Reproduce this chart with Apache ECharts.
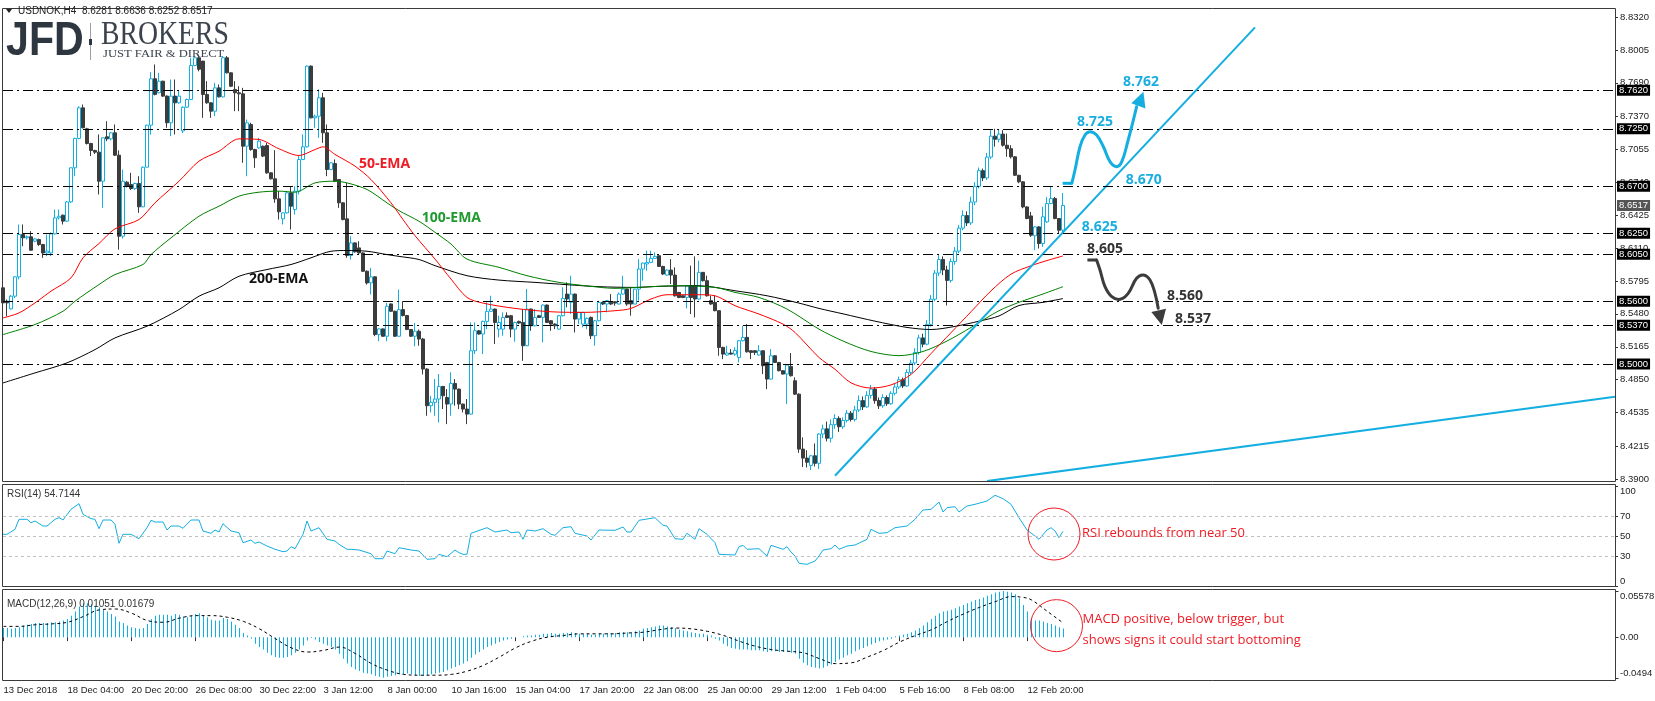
<!DOCTYPE html>
<html>
<head>
<meta charset="utf-8">
<title>USDNOK H4</title>
<script src="https://cdn.jsdelivr.net/npm/echarts@6.0.0/dist/echarts.min.js"></script>
<style>
  html, body { margin: 0; padding: 0; background: #fff; }
  #chartRoot { width: 1655px; height: 701px; }
</style>
</head>
<body>
<div id="chartRoot"></div>
<script>
// H4 candles from 13 Dec 2018 12:00, each [open, close, low, high]
const candles = [
  [8.5729,8.5585,8.5550,8.5760],[8.5601,8.5585,8.5457,8.5617],[8.5528,8.5649,8.5521,8.5660],[8.5649,8.5834,8.5630,8.5840],
  [8.5834,8.6239,8.5810,8.6335],[8.6239,8.6207,8.6127,8.6335],[8.6207,8.6217,8.6190,8.6230],[8.6217,8.6089,8.6085,8.6271],
  [8.6175,8.6197,8.6165,8.6205],[8.6191,8.6143,8.6130,8.6200],[8.6143,8.6063,8.6016,8.6150],[8.6063,8.6080,8.6032,8.6239],
  [8.6063,8.6245,8.6032,8.6260],[8.6245,8.6398,8.6240,8.6478],[8.6398,8.6414,8.6382,8.6478],[8.6424,8.6367,8.6335,8.6430],
  [8.6367,8.6551,8.6360,8.6560],[8.6551,8.6877,8.6540,8.6880],[8.6877,8.7158,8.6797,8.7165],[8.7158,8.7451,8.7150,8.7467],
  [8.7451,8.7260,8.7255,8.7483],[8.7250,8.7110,8.7100,8.7260],[8.7110,8.7043,8.6990,8.7116],[8.7043,8.7027,8.7010,8.7050],
  [8.7027,8.6749,8.6622,8.7196],[8.6749,8.7164,8.6494,8.7170],[8.7174,8.7154,8.7132,8.7323],[8.7154,8.7212,8.7140,8.7220],
  [8.7212,8.6998,8.6990,8.7292],[8.6998,8.6223,8.6095,8.7043],[8.6223,8.6749,8.6200,8.6861],[8.6740,8.6701,8.6690,8.6749],
  [8.6717,8.6679,8.6665,8.6829],[8.6679,8.6727,8.6665,8.6735],[8.6727,8.6504,8.6446,8.6797],[8.6504,8.6883,8.6500,8.6890],
  [8.6883,8.7285,8.6880,8.7290],[8.7285,8.7729,8.7196,8.7792],[8.7729,8.7579,8.7570,8.7866],[8.7595,8.7706,8.7590,8.7786],
  [8.7706,8.7563,8.7555,8.7710],[8.7563,8.7308,8.7260,8.7570],[8.7308,8.7563,8.7180,8.7722],[8.7563,8.7499,8.7196,8.7722],
  [8.7499,8.7563,8.7490,8.7611],[8.7230,8.7457,8.7210,8.7465],[8.7457,8.7531,8.7450,8.7540],[8.7531,8.7856,8.7525,8.7930],
  [8.7856,8.7930,8.7850,8.7940],[8.7930,8.7820,8.7800,8.7960],[8.7898,8.7579,8.7355,8.7900],[8.7579,8.7499,8.7490,8.7706],
  [8.7499,8.7419,8.7355,8.7505],[8.7419,8.7642,8.7371,8.7690],[8.7642,8.7556,8.7550,8.7674],[8.7556,8.7930,8.7550,8.7946],
  [8.7930,8.7786,8.7780,8.7946],[8.7786,8.7658,8.7650,8.7790],[8.7627,8.7595,8.7419,8.7706],[8.7595,8.7585,8.7419,8.7658],
  [8.7585,8.7084,8.6925,8.7642],[8.7084,8.7308,8.6797,8.7339],[8.7292,8.7052,8.7040,8.7308],[8.7052,8.6973,8.6877,8.7060],
  [8.7068,8.7132,8.7060,8.7164],[8.7084,8.6989,8.6980,8.7090],[8.7091,8.6829,8.6820,8.7116],[8.6829,8.6772,8.6765,8.6835],
  [8.6772,8.6580,8.6542,8.7046],[8.6580,8.6456,8.6382,8.6654],[8.6389,8.6446,8.6335,8.6450],[8.6446,8.6638,8.6440,8.6654],
  [8.6638,8.6510,8.6287,8.6701],[8.6478,8.6654,8.6430,8.6701],[8.6654,8.6957,8.6622,8.6989],[8.6957,8.7078,8.6950,8.7196],
  [8.7078,8.7850,8.7070,8.7856],[8.7850,8.7355,8.7350,8.7856],[8.7355,8.7371,8.7260,8.7387],[8.7371,8.7547,8.7164,8.7627],
  [8.7547,8.7212,8.7116,8.7595],[8.7212,8.6861,8.6797,8.7292],[8.6861,8.6925,8.6855,8.6930],[8.6918,8.6749,8.6740,8.6957],
  [8.6765,8.6542,8.6494,8.6770],[8.6542,8.6382,8.6375,8.6550],[8.6389,8.6038,8.6016,8.6733],[8.6038,8.6159,8.6000,8.6223],
  [8.6159,8.6073,8.6065,8.6165],[8.6111,8.6063,8.6055,8.6175],[8.6063,8.5888,8.5880,8.6070],[8.5888,8.5776,8.5760,8.5895],
  [8.5776,8.5834,8.5665,8.5920],[8.5834,8.5282,8.5266,8.5840],[8.5282,8.5336,8.5218,8.5340],[8.5336,8.5266,8.5260,8.5340],
  [8.5266,8.5553,8.5218,8.5585],[8.5575,8.5505,8.5500,8.5580],[8.5505,8.5266,8.5260,8.5510],[8.5266,8.5521,8.5260,8.5713],
  [8.5521,8.5464,8.5455,8.5601],[8.5464,8.5330,8.5325,8.5470],[8.5330,8.5266,8.5260,8.5335],[8.5266,8.5314,8.5170,8.5393],
  [8.5314,8.5239,8.5175,8.5330],[8.5239,8.4952,8.4900,8.5250],[8.4952,8.4601,8.4505,8.4960],[8.4601,8.4633,8.4537,8.4696],
  [8.4633,8.4665,8.4505,8.4856],[8.4665,8.4786,8.4441,8.4904],[8.4786,8.4696,8.4569,8.4790],[8.4680,8.4617,8.4425,8.4760],
  [8.4617,8.4814,8.4505,8.4920],[8.4814,8.4760,8.4601,8.4856],[8.4760,8.4617,8.4569,8.4765],[8.4617,8.4569,8.4537,8.4620],
  [8.4569,8.4521,8.4425,8.4665],[8.4521,8.5127,8.4515,8.5398],[8.5127,8.5318,8.5095,8.5398],[8.5318,8.5287,8.5280,8.5325],
  [8.5287,8.5408,8.5095,8.5415],[8.5408,8.5504,8.5334,8.5590],[8.5504,8.5526,8.5500,8.5653],[8.5526,8.5398,8.5191,8.5530],
  [8.5334,8.5398,8.5255,8.5462],[8.5334,8.5446,8.5271,8.5494],[8.5462,8.5446,8.5440,8.5494],[8.5462,8.5334,8.5255,8.5470],
  [8.5334,8.5398,8.5213,8.5405],[8.5408,8.5392,8.5385,8.5415],[8.5398,8.5175,8.5031,8.5526],[8.5175,8.5526,8.5170,8.5717],
  [8.5526,8.5366,8.5318,8.5530],[8.5366,8.5446,8.5360,8.5526],[8.5462,8.5446,8.5440,8.5470],[8.5446,8.5564,8.5207,8.5570],
  [8.5564,8.5398,8.5392,8.5570],[8.5414,8.5382,8.5318,8.5420],[8.5382,8.5366,8.5334,8.5390],[8.5334,8.5462,8.5330,8.5470],
  [8.5462,8.5628,8.5455,8.5733],[8.5669,8.5622,8.5542,8.5781],[8.5590,8.5669,8.5478,8.5845],[8.5669,8.5430,8.5302,8.5675],
  [8.5430,8.5494,8.5382,8.5500],[8.5382,8.5494,8.5350,8.5500],[8.5382,8.5437,8.5334,8.5445],[8.5446,8.5271,8.5239,8.5455],
  [8.5271,8.5414,8.5175,8.5420],[8.5414,8.5590,8.5410,8.5606],[8.5590,8.5574,8.5565,8.5600],[8.5574,8.5606,8.5494,8.5612],
  [8.5590,8.5574,8.5565,8.5669],[8.5596,8.5583,8.5558,8.5600],[8.5574,8.5669,8.5570,8.5685],[8.5669,8.5717,8.5665,8.5845],
  [8.5717,8.5574,8.5558,8.5720],[8.5606,8.5574,8.5462,8.5733],[8.5574,8.5717,8.5570,8.5720],[8.5717,8.5909,8.5606,8.6004],
  [8.5909,8.5966,8.5797,8.5970],[8.5957,8.5972,8.5893,8.6084],[8.5972,8.6011,8.5965,8.6084],[8.6011,8.6030,8.6005,8.6068],
  [8.6036,8.5934,8.5930,8.6040],[8.5934,8.5861,8.5851,8.5940],[8.5851,8.5899,8.5845,8.5905],[8.5899,8.5851,8.5765,8.6004],
  [8.5851,8.5653,8.5645,8.5925],[8.5685,8.5637,8.5630,8.5690],[8.5653,8.5637,8.5630,8.5660],[8.5637,8.5749,8.5532,8.5755],
  [8.5749,8.5637,8.5478,8.5941],[8.5749,8.5622,8.5446,8.6030],[8.5622,8.5877,8.5615,8.5989],[8.5877,8.5797,8.5790,8.5880],
  [8.5797,8.5653,8.5645,8.5845],[8.5606,8.5574,8.5565,8.5653],[8.5590,8.5510,8.5505,8.5653],[8.5510,8.5159,8.5079,8.5515],
  [8.5159,8.5095,8.5047,8.5165],[8.5086,8.5105,8.5080,8.5175],[8.5105,8.5095,8.5090,8.5143],[8.5095,8.5130,8.5079,8.5160],
  [8.5063,8.5223,8.5015,8.5230],[8.5223,8.5255,8.5215,8.5366],[8.5255,8.5117,8.5110,8.5382],[8.5127,8.5111,8.5047,8.5130],
  [8.5127,8.5111,8.5086,8.5130],[8.5086,8.5127,8.5080,8.5181],[8.5127,8.4984,8.4904,8.5130],[8.5015,8.4856,8.4760,8.5020],
  [8.4856,8.5079,8.4850,8.5143],[8.5079,8.5015,8.5010,8.5085],[8.5015,8.4936,8.4930,8.5020],[8.4936,8.4904,8.4900,8.4940],
  [8.4904,8.4990,8.4617,8.4995],[8.4977,8.4888,8.4880,8.5105],[8.4840,8.4712,8.4705,8.4872],[8.4712,8.4186,8.4150,8.4720],
  [8.4186,8.4100,8.4015,8.4298],[8.4100,8.4060,8.4010,8.4175],[8.4030,8.4122,8.3986,8.4130],[8.4122,8.4050,8.4020,8.4240],
  [8.4050,8.4330,8.3996,8.4340],[8.4330,8.4380,8.4290,8.4420],[8.4380,8.4290,8.4260,8.4450],[8.4290,8.4420,8.4250,8.4470],
  [8.4420,8.4480,8.4380,8.4520],[8.4480,8.4400,8.4350,8.4500],[8.4400,8.4460,8.4380,8.4490],[8.4460,8.4530,8.4440,8.4560],
  [8.4530,8.4470,8.4450,8.4550],[8.4470,8.4560,8.4450,8.4600],[8.4560,8.4650,8.4540,8.4700],[8.4650,8.4590,8.4560,8.4690],
  [8.4590,8.4700,8.4580,8.4740],[8.4700,8.4760,8.4670,8.4800],[8.4760,8.4650,8.4620,8.4780],[8.4650,8.4600,8.4570,8.4680],
  [8.4600,8.4680,8.4580,8.4710],[8.4680,8.4620,8.4600,8.4700],[8.4620,8.4720,8.4610,8.4740],[8.4720,8.4780,8.4700,8.4810],
  [8.4780,8.4850,8.4760,8.4880],[8.4850,8.4790,8.4770,8.4870],[8.4790,8.4920,8.4780,8.4950],[8.4920,8.5010,8.4900,8.5040],
  [8.5010,8.5110,8.4990,8.5150],[8.5110,8.5250,8.5090,8.5280],[8.5250,8.5190,8.5160,8.5290],[8.5190,8.5380,8.5180,8.5420],
  [8.5380,8.5620,8.5360,8.5660],[8.5620,8.5870,8.5600,8.5900],[8.5870,8.6000,8.5840,8.6050],[8.6000,8.5900,8.5850,8.6030],
  [8.5900,8.5800,8.5560,8.5940],[8.5800,8.5980,8.5780,8.6010],[8.5980,8.6080,8.5950,8.6120],[8.6080,8.6300,8.6060,8.6330],
  [8.6300,8.6420,8.6280,8.6470],[8.6420,8.6350,8.6320,8.6460],[8.6350,8.6550,8.6330,8.6600],[8.6550,8.6700,8.6520,8.6740],
  [8.6700,8.6850,8.6680,8.6880],[8.6850,8.6780,8.6750,8.6870],[8.6780,8.6980,8.6760,8.7020],[8.6980,8.7180,8.6960,8.7240],
  [8.7180,8.7150,8.7080,8.7250],[8.7150,8.7200,8.7120,8.7245],[8.7200,8.7093,8.7080,8.7237],[8.7093,8.7060,8.6982,8.7205],
  [8.7060,8.6982,8.6966,8.7093],[8.6982,8.6806,8.6800,8.6990],[8.6806,8.6743,8.6730,8.6810],[8.6743,8.6503,8.6490,8.6750],
  [8.6503,8.6392,8.6385,8.6510],[8.6417,8.6232,8.6216,8.6455],[8.6226,8.6312,8.6089,8.6320],[8.6312,8.6153,8.6105,8.6320],
  [8.6153,8.6408,8.6121,8.6504],[8.6360,8.6535,8.6350,8.6599],[8.6535,8.6583,8.6530,8.6695],[8.6583,8.6392,8.6385,8.6599],
  [8.6392,8.6280,8.6248,8.6395],[8.6281,8.6517,8.6252,8.6636]
];

// moving averages, [bar, value]
const ema50 = [[0,8.5441],[4,8.5489],[8,8.5585],[12,8.5697],[17,8.5824],[20,8.6016],[24,8.6153],[28,8.6293],[34,8.6382],[38,8.6542],[44,8.6749],[49,8.6941],[54,8.7036],[59,8.7154],[64,8.7148],[69,8.7059],[74,8.6995],[78,8.7052],[80,8.7078],[83,8.7005],[88,8.6893],[92,8.6765],[97,8.6542],[100,8.6382],[103,8.6228],[108,8.6004],[112,8.5813],[116,8.5637],[120,8.5583],[128,8.5532],[137,8.5500],[145,8.5494],[153,8.5510],[157,8.5532],[162,8.5622],[166,8.5663],[174,8.5663],[178,8.5653],[183,8.5558],[189,8.5478],[195,8.5382],[198,8.5302],[204,8.5063],[208,8.4950],[212,8.4820],[217,8.4770],[222,8.4800],[227,8.4900],[232,8.5100],[237,8.5300],[242,8.5500],[247,8.5700],[252,8.5860],[257,8.5940],[261,8.5990],[265,8.6034]];
const ema100 = [[0,8.5282],[8,8.5378],[15,8.5505],[18,8.5601],[24,8.5760],[28,8.5856],[35,8.5952],[37,8.6047],[42,8.6207],[49,8.6414],[54,8.6510],[59,8.6606],[64,8.6644],[69,8.6654],[73,8.6644],[78,8.6733],[83,8.6749],[86,8.6733],[91,8.6670],[96,8.6542],[99,8.6467],[104,8.6366],[108,8.6260],[112,8.6148],[116,8.6004],[124,8.5925],[131,8.5845],[139,8.5781],[147,8.5743],[153,8.5724],[162,8.5740],[168,8.5749],[178,8.5733],[183,8.5685],[189,8.5637],[196,8.5526],[204,8.5334],[210,8.5220],[217,8.5120],[224,8.5080],[230,8.5120],[236,8.5220],[242,8.5350],[249,8.5510],[254,8.5590],[260,8.5670],[265,8.5740]];
const ema200 = [[0,8.4819],[8,8.4915],[16,8.5011],[23,8.5138],[28,8.5250],[36,8.5362],[44,8.5521],[49,8.5649],[54,8.5729],[59,8.5840],[66,8.5904],[72,8.5952],[77,8.6016],[82,8.6079],[86,8.6086],[91,8.6079],[96,8.6047],[99,8.6030],[104,8.6000],[108,8.5941],[116,8.5845],[124,8.5803],[133,8.5781],[141,8.5759],[149,8.5740],[158,8.5733],[164,8.5743],[174,8.5749],[183,8.5701],[191,8.5653],[199,8.5583],[204,8.5532],[210,8.5480],[218,8.5410],[226,8.5350],[232,8.5330],[238,8.5360],[244,8.5410],[249,8.5460],[254,8.5560],[260,8.5590],[265,8.5626]];

// RSI(14), [bar, value]
const rsi = [[0,51.7],[1,51.7],[3,56.7],[4,66.7],[6,66.7],[7,63.3],[8,65],[10,60],[11,60],[13,66.7],[14,68.3],[15,66],[17,76.7],[19,82.3],[20,71.7],[22,67.3],[23,66.7],[24,57.3],[25,66],[27,66],[28,61.7],[29,42.7],[30,51.7],[32,51.7],[34,47.3],[36,58.3],[37,65.7],[38,64],[40,64],[41,56],[42,60],[44,60],[45,57.7],[47,66],[49,66],[50,55],[52,52.7],[53,56],[54,54],[55,62.3],[57,55],[59,53.3],[60,43.3],[62,46],[63,42.7],[64,44],[66,40],[68,36.7],[70,34.3],[71,35],[72,39.3],[73,37.3],[75,51.7],[76,65],[77,55],[79,58.3],[81,46.7],[83,45],[84,41.7],[86,36.7],[87,36.7],[89,36],[92,32.3],[93,27.3],[95,27.3],[96,35],[98,32.3],[99,38.3],[102,36],[104,35],[106,26.7],[108,27.3],[109,31.7],[111,29.3],[113,36],[114,33.3],[115,31.7],[116,31.7],[117,52.7],[121,58.3],[123,54],[126,56],[127,53.3],[129,54],[130,46.7],[131,56],[133,55],[135,57.3],[137,51.7],[138,50.7],[140,58.3],[142,59.3],[143,52.7],[146,50],[147,46],[149,56],[153,55.7],[155,59],[156,54],[157,54],[159,65.7],[163,68.3],[165,60.7],[166,60],[168,47.3],[170,46.7],[171,52.7],[173,46.7],[174,57.3],[176,51.7],[178,43.3],[179,31.7],[183,31],[184,39.3],[185,40.7],[186,36.7],[189,37.3],[191,30],[192,40.7],[195,36.7],[196,39.3],[197,34],[198,30],[199,22.7],[201,21.7],[203,25],[204,30],[205,36],[207,37.3],[208,41],[209,36.7],[211,40],[213,41],[216,46.7],[217,56.7],[219,52.7],[221,53.3],[223,58.3],[226,60],[228,66.7],[230,76],[232,76.7],[234,84],[235,74],[236,78.3],[238,79.3],[239,74],[241,80],[243,81.7],[246,85],[248,90.7],[250,87.3],[252,81.7],[254,68.3],[256,56],[258,50],[259,46.7],[261,56],[262,58.3],[263,55],[264,48.3],[265,54.7]];

// MACD(12,26,9) histogram, one per bar
const macdHist = [
  0.011,0.011,0.010,0.011,0.012,0.014,0.015,0.016,0.017,0.017,
  0.017,0.017,0.018,0.018,0.019,0.020,0.022,0.026,0.031,0.037,
  0.041,0.041,0.040,0.038,0.036,0.033,0.031,0.028,0.025,0.019,
  0.017,0.014,0.012,0.011,0.010,0.011,0.016,0.022,0.026,0.027,
  0.027,0.027,0.026,0.028,0.027,0.025,0.024,0.026,0.028,0.029,
  0.026,0.024,0.021,0.020,0.020,0.023,0.022,0.019,0.015,0.011,
  0.005,0.002,-0.002,-0.008,-0.012,-0.015,-0.019,-0.022,-0.024,-0.025,
  -0.025,-0.024,-0.022,-0.019,-0.015,-0.010,-0.004,-0.001,-0.003,-0.006,
  -0.008,-0.010,-0.012,-0.015,-0.020,-0.026,-0.032,-0.036,-0.039,-0.041,
  -0.043,-0.044,-0.045,-0.047,-0.048,-0.049,-0.048,-0.047,-0.046,-0.045,
  -0.045,-0.044,-0.045,-0.046,-0.047,-0.047,-0.046,-0.045,-0.044,-0.043,
  -0.042,-0.040,-0.038,-0.036,-0.034,-0.032,-0.029,-0.025,-0.021,-0.018,
  -0.015,-0.012,-0.010,-0.008,-0.006,-0.004,-0.003,-0.002,-0.001,0.000,
  0.001,0.002,0.002,0.003,0.003,0.004,0.004,0.005,0.004,0.004,
  0.005,0.005,0.006,0.005,0.004,0.004,0.004,0.003,0.003,0.004,
  0.004,0.005,0.005,0.005,0.006,0.006,0.006,0.006,0.007,0.008,
  0.010,0.011,0.012,0.013,0.014,0.014,0.013,0.012,0.011,0.009,
  0.008,0.007,0.006,0.005,0.004,0.004,0.003,0.002,-0.002,-0.004,
  -0.008,-0.011,-0.013,-0.014,-0.015,-0.015,-0.015,-0.016,-0.016,-0.016,
  -0.017,-0.018,-0.017,-0.017,-0.018,-0.018,-0.018,-0.019,-0.020,-0.026,
  -0.031,-0.034,-0.036,-0.037,-0.038,-0.037,-0.035,-0.033,-0.030,-0.027,
  -0.025,-0.022,-0.020,-0.017,-0.015,-0.013,-0.011,-0.009,-0.007,-0.005,
  -0.004,-0.003,-0.002,0.001,0.002,0.003,0.004,0.006,0.008,0.011,
  0.014,0.018,0.022,0.026,0.029,0.031,0.032,0.033,0.035,0.037,
  0.039,0.041,0.043,0.045,0.046,0.048,0.050,0.052,0.054,0.055,
  0.0558,0.055,0.054,0.052,0.047,0.039,0.031,0.022,0.020,0.020,
  0.019,0.017,0.016,0.014,0.012,0.0105
];
const macdSignal = [[0,0.013],[4,0.013],[8,0.015],[12,0.016],[16,0.018],[20,0.025],[24,0.033],[28,0.034],[32,0.029],[36,0.020],[40,0.018],[44,0.023],[48,0.026],[52,0.026],[56,0.024],[60,0.019],[64,0.010],[68,-0.002],[72,-0.013],[76,-0.018],[80,-0.016],[84,-0.012],[88,-0.020],[92,-0.032],[96,-0.040],[100,-0.045],[104,-0.046],[108,-0.046],[112,-0.045],[116,-0.041],[120,-0.034],[124,-0.024],[128,-0.013],[132,-0.005],[136,0.000],[140,0.002],[144,0.004],[148,0.004],[152,0.004],[156,0.005],[160,0.006],[164,0.009],[168,0.011],[172,0.010],[176,0.007],[180,0.002],[184,-0.005],[188,-0.011],[192,-0.015],[196,-0.017],[200,-0.019],[204,-0.026],[208,-0.032],[212,-0.031],[216,-0.024],[220,-0.016],[224,-0.006],[228,0.002],[232,0.009],[236,0.019],[240,0.028],[244,0.036],[248,0.043],[252,0.049],[255,0.048],[257,0.045],[261,0.031],[265,0.0168]];

const timeLabels = ["13 Dec 2018", "18 Dec 04:00", "20 Dec 20:00", "26 Dec 08:00", "30 Dec 22:00", "3 Jan 12:00", "8 Jan 00:00", "10 Jan 16:00", "15 Jan 04:00", "17 Jan 20:00", "22 Jan 08:00", "25 Jan 00:00", "29 Jan 12:00", "1 Feb 04:00", "5 Feb 16:00", "8 Feb 08:00", "12 Feb 20:00"];
const priceTicks = [8.3900, 8.4215, 8.4535, 8.4850, 8.5165, 8.5480, 8.5795, 8.6110, 8.6425, 8.6740, 8.7055, 8.7370, 8.7690, 8.8005, 8.8320];
const levels = [8.7620, 8.7250, 8.6700, 8.6250, 8.6050, 8.5600, 8.5370, 8.5000];
const lastBar = [8.6281, 8.6636, 8.6252, 8.6517];
const rsiTicks = [0, 30, 50, 70, 100];
const rsiLast = 54.7144;
const macdTicks = [-0.0494, 0, 0.05578];
const macdTickLabels = ["-0.0494", "0.00", "0.05578"];
const macdLast = [0.01051, 0.01679];

// trend lines, [bar, price]
const supportLine = [[208, 8.3931], [313, 8.8221]];
const lowerLine = [[246, 8.3880], [403, 8.4687]];

// scenario drawings, [bar, price]
const bullStep = [[264.9, 8.6729], [267.2, 8.6729]];
const bullWave = [[267.2, 8.6729], [268.0, 8.6856], [269.25, 8.7079], [270.5, 8.7191], [271.75, 8.7223], [273.4, 8.7191], [275.1, 8.7079], [276.75, 8.6936], [278.4, 8.6888], [279.7, 8.6936], [281.3, 8.7143], [282.6, 8.7335], [283.4, 8.7462]];
const bullTip = [285.1, 8.7605];
const bearStep = [[271.1, 8.5995], [273.4, 8.5995]];
const bearWave = [[273.4, 8.5995], [274.25, 8.5899], [275.5, 8.5740], [277.2, 8.5644], [279.25, 8.5619], [281.3, 8.5676], [283.4, 8.5820], [285.1, 8.5852], [286.75, 8.5804], [288.0, 8.5676], [288.8, 8.5533]];
const bearTip = [289.7, 8.5373];

const priceNotes = [
  {text: "8.762", bar: 280.0, price: 8.7698, color: "#1aaee0"},
  {text: "8.725", bar: 268.5, price: 8.7315, color: "#1aaee0"},
  {text: "8.670", bar: 280.7, price: 8.6761, color: "#1aaee0"},
  {text: "8.625", bar: 269.7, price: 8.6311, color: "#1aaee0"},
  {text: "8.605", bar: 271.0, price: 8.6100, color: "#333333"},
  {text: "8.560", bar: 291.0, price: 8.5651, color: "#333333"},
  {text: "8.537", bar: 293.0, price: 8.5431, color: "#333333"},
  {text: "50-EMA", bar: 89.0, price: 8.6914, color: "#ee1c25"},
  {text: "100-EMA", bar: 104.7, price: 8.6397, color: "#1f9a2e"},
  {text: "200-EMA", bar: 61.5, price: 8.5813, color: "#111111"}
];

const cyan = "#14aee0";
const dark = "#3c3c3c";
const red = "#ee1c25";
const font = "Liberation Sans";
const slotCount = 404;
const slots = Array.from({length: slotCount}, (_, i) => i);
const labelAt = idx => idx % 16 === 0 && idx / 16 < timeLabels.length;

const chart = echarts.init(document.getElementById("chartRoot"));

const axisText = {color: "#222", fontSize: 9.5, fontFamily: font};

const option = {
  animation: false,
  backgroundColor: "#fff",
  grid: [
    {left: 3, width: 1612, top: 9, height: 472, outerBoundsMode: "none"},
    {left: 3, width: 1612, top: 486, height: 100, outerBoundsMode: "none"},
    // half-pixel shift keeps the 1px histogram bars crisp
    {left: 3.5, width: 1612, top: 591, height: 87, outerBoundsMode: "none"}
  ],
  xAxis: [0, 1, 2].map(i => ({
    type: "category",
    gridIndex: i,
    data: slots,
    boundaryGap: false,
    show: i === 2,
    offset: 3,
    axisLine: {show: false},
    axisTick: {show: true, length: 4, interval: labelAt, lineStyle: {color: "#333"}},
    axisLabel: Object.assign({
      interval: labelAt,
      align: "left",
      margin: 4,
      formatter: (v, idx) => timeLabels[idx / 16]
    }, axisText),
    splitLine: {show: false}
  })),
  yAxis: [
    {
      type: "value", gridIndex: 0, position: "right",
      min: 8.38809, max: 8.83965,
      axisLine: {show: false}, splitLine: {show: false},
      axisTick: {show: true, length: 3, customValues: priceTicks, lineStyle: {color: "#333"}},
      axisLabel: Object.assign({customValues: priceTicks, margin: 5, formatter: v => v.toFixed(4)}, axisText)
    },
    {
      type: "value", gridIndex: 1, position: "right",
      min: 0, max: 100,
      axisLine: {show: false}, splitLine: {show: false},
      axisTick: {show: true, length: 3, customValues: rsiTicks, lineStyle: {color: "#333"}},
      axisLabel: Object.assign({
        customValues: rsiTicks, margin: 5,
        verticalAlignMinLabel: "bottom", verticalAlignMaxLabel: "top",
        formatter: v => String(v)
      }, axisText)
    },
    {
      type: "value", gridIndex: 2, position: "right",
      min: macdTicks[0], max: macdTicks[2],
      axisLine: {show: false}, splitLine: {show: false},
      axisTick: {show: true, length: 3, customValues: macdTicks, lineStyle: {color: "#333"}},
      axisLabel: Object.assign({
        customValues: macdTicks, margin: 4.5,
        verticalAlignMinLabel: "bottom", verticalAlignMaxLabel: "top",
        formatter: v => {
          let k = 0;
          macdTicks.forEach((t, i) => { if (Math.abs(t - v) < Math.abs(macdTicks[k] - v)) k = i; });
          return macdTickLabels[k];
        }
      }, axisText)
    }
  ],
  series: [
    {
      type: "candlestick",
      xAxisIndex: 0, yAxisIndex: 0,
      data: candles,
      barWidth: 3,
      itemStyle: {color: "#ffffff", color0: dark, borderColor: cyan, borderColor0: dark, borderWidth: 1},
      markLine: {
        silent: true,
        precision: 4,
        symbol: ["none", "none"],
        lineStyle: {color: "#000", width: 1, type: [10, 4, 2, 4]},
        label: {
          show: true, position: "end", distance: 2,
          formatter: p => Number(p.data && p.data.yAxis != null ? p.data.yAxis : p.value).toFixed(4),
          color: "#fff", backgroundColor: "#000",
          padding: [1, 2, 0, 2], fontSize: 9.5, fontFamily: font
        },
        data: levels.map(v => ({yAxis: v})).concat([
          {yAxis: lastBar[3], lineStyle: {color: "rgba(0,0,0,0)", width: 0}, label: {backgroundColor: "#555", color: "#fff"}}
        ])
      }
    },
    {type: "line", xAxisIndex: 0, yAxisIndex: 0, data: ema200, symbol: "none", smooth: 0.3, lineStyle: {color: "#000", width: 1}},
    {type: "line", xAxisIndex: 0, yAxisIndex: 0, data: ema100, symbol: "none", smooth: 0.3, lineStyle: {color: "#008000", width: 1}},
    {type: "line", xAxisIndex: 0, yAxisIndex: 0, data: ema50, symbol: "none", smooth: 0.3, lineStyle: {color: "#ff0000", width: 1}},
    {type: "line", xAxisIndex: 0, yAxisIndex: 0, data: supportLine, symbol: "none", lineStyle: {color: cyan, width: 2}},
    {type: "line", xAxisIndex: 0, yAxisIndex: 0, data: lowerLine, symbol: "none", lineStyle: {color: cyan, width: 2}},
    {
      type: "line", xAxisIndex: 1, yAxisIndex: 1, data: rsi, symbol: "none",
      lineStyle: {color: cyan, width: 1},
      markLine: {
        silent: true, symbol: ["none", "none"], label: {show: false},
        lineStyle: {color: "#c0c0c0", width: 1, type: [3, 3]},
        data: [{yAxis: 70}, {yAxis: 50}, {yAxis: 30}]
      }
    },
    {type: "bar", xAxisIndex: 2, yAxisIndex: 2, data: macdHist, barWidth: 1, itemStyle: {color: "#0fb0e4"}},
    {type: "line", xAxisIndex: 2, yAxisIndex: 2, data: macdSignal, symbol: "none", smooth: 0.4, lineStyle: {color: "#000", width: 1, type: [3, 3]}}
  ]
};

chart.setOption(option);

// data -> pixel, with fractional bars handled between neighbouring slots
const at = (gridIndex, bar, value) => {
  const b0 = Math.floor(bar), f = bar - b0;
  const p0 = chart.convertToPixel({gridIndex}, [b0, value]);
  const p1 = chart.convertToPixel({gridIndex}, [b0 + 1, value]);
  return [p0[0] + f * (p1[0] - p0[0]), p0[1]];
};

function arrowHead(tip, from, len, half) {
  const dx = tip[0] - from[0], dy = tip[1] - from[1];
  const d = Math.hypot(dx, dy);
  const ux = dx / d, uy = dy / d;
  const bx = tip[0] - ux * len, by = tip[1] - uy * len;
  return [tip, [bx - uy * half, by + ux * half], [bx + uy * half, by - ux * half]];
}

const toPx = pts => pts.map(p => at(0, p[0], p[1]));

const graphics = [];

// panel frames
[[8.5, 473], [484.5, 102], [589.5, 91]].forEach(([y, h]) => {
  graphics.push({type: "rect", z: 50, silent: true, shape: {x: 2.5, y, width: 1613, height: h}, style: {fill: "none", stroke: "#3a3a3a", lineWidth: 1}});
});

// header and logo
graphics.push({type: "polygon", z: 60, shape: {points: [[6, 9], [12, 9], [9, 13]]}, style: {fill: "#222"}});
graphics.push({type: "text", z: 60, x: 18, y: 11, style: {text: "USDNOK,H4  " + lastBar.map(v => v.toFixed(4)).join(" "), fill: "#222", fontSize: 10, fontFamily: font, verticalAlign: "middle"}});
graphics.push({type: "text", z: 60, x: 6, y: 41, scaleX: 0.84, style: {text: "JFD", fill: "#2e3640", fontSize: 49, fontWeight: "bold", fontFamily: font, verticalAlign: "middle"}});
graphics.push({type: "line", z: 60, shape: {x1: 90.5, y1: 23, x2: 90.5, y2: 60}, style: {stroke: "#9aa0a6", lineWidth: 1}});
graphics.push({type: "rect", z: 60, shape: {x: 89, y: 39, width: 3, height: 6}, style: {fill: "#2e3640"}});
graphics.push({type: "text", z: 60, x: 101, y: 35, scaleX: 0.84, style: {text: "BROKERS", fill: "#3b434d", fontSize: 33, fontFamily: "Liberation Serif", verticalAlign: "middle"}});
graphics.push({type: "text", z: 60, x: 103, y: 54, scaleX: 1.2, style: {text: "JUST FAIR & DIRECT", fill: "#3b434d", fontSize: 10.5, fontFamily: "Liberation Serif", verticalAlign: "middle"}});

// indicator captions
graphics.push({type: "text", z: 60, x: 7, y: 494, style: {text: "RSI(14) " + rsiLast.toFixed(4), fill: "#333", fontSize: 10, fontFamily: font, verticalAlign: "middle"}});
graphics.push({type: "text", z: 60, x: 7, y: 604, style: {text: "MACD(12,26,9) " + macdLast.map(v => v.toFixed(5)).join(" "), fill: "#333", fontSize: 10, fontFamily: font, verticalAlign: "middle"}});

// scenario arrows
const drawArrow = (step, wave, tip, color) => {
  const stepPx = toPx(step), wavePx = toPx(wave), tipPx = at(0, tip[0], tip[1]);
  graphics.push({type: "polyline", z: 70, shape: {points: stepPx}, style: {stroke: color, lineWidth: 3, fill: null, lineCap: "butt"}});
  graphics.push({type: "polyline", z: 70, shape: {points: wavePx, smooth: 0.4}, style: {stroke: color, lineWidth: 3, fill: null, lineCap: "round"}});
  graphics.push({type: "polygon", z: 71, shape: {points: arrowHead(tipPx, wavePx[wavePx.length - 2], 15, 7.5)}, style: {fill: color}});
};
drawArrow(bullStep, bullWave, bullTip, cyan);
drawArrow(bearStep, bearWave, bearTip, dark);

priceNotes.forEach(n => {
  const p = at(0, n.bar, n.price);
  graphics.push({type: "text", z: 72, x: p[0], y: p[1], style: {text: n.text, fill: n.color, fontSize: 14, fontWeight: "bold", fontFamily: "Open Sans", verticalAlign: "middle"}});
});

// red remarks on the oscillators
const rsiCenter = at(1, 262.75, 52);
graphics.push({type: "circle", z: 72, shape: {cx: rsiCenter[0], cy: rsiCenter[1], r: 26}, style: {fill: "none", stroke: red, lineWidth: 1}});
const rsiText = at(1, 269.75, 53);
graphics.push({type: "text", z: 72, x: rsiText[0], y: rsiText[1], style: {text: "RSI rebounds from near 50", fill: red, fontSize: 13, fontFamily: "Open Sans", verticalAlign: "middle"}});
const macdCenter = at(2, 263.25, 0.0139);
graphics.push({type: "circle", z: 72, shape: {cx: macdCenter[0], cy: macdCenter[1], r: 26}, style: {fill: "none", stroke: red, lineWidth: 1}});
const macdText1 = at(2, 269.75, 0.0212);
const macdText2 = at(2, 269.75, -0.0042);
graphics.push({type: "text", z: 72, x: macdText1[0], y: macdText1[1], style: {text: "MACD positive, below trigger, but", fill: red, fontSize: 13, fontFamily: "Open Sans", verticalAlign: "middle"}});
graphics.push({type: "text", z: 72, x: macdText2[0], y: macdText2[1], style: {text: "shows signs it could start bottoming", fill: red, fontSize: 13, fontFamily: "Open Sans", verticalAlign: "middle"}});

chart.setOption({graphic: graphics});
</script>
</body>
</html>
